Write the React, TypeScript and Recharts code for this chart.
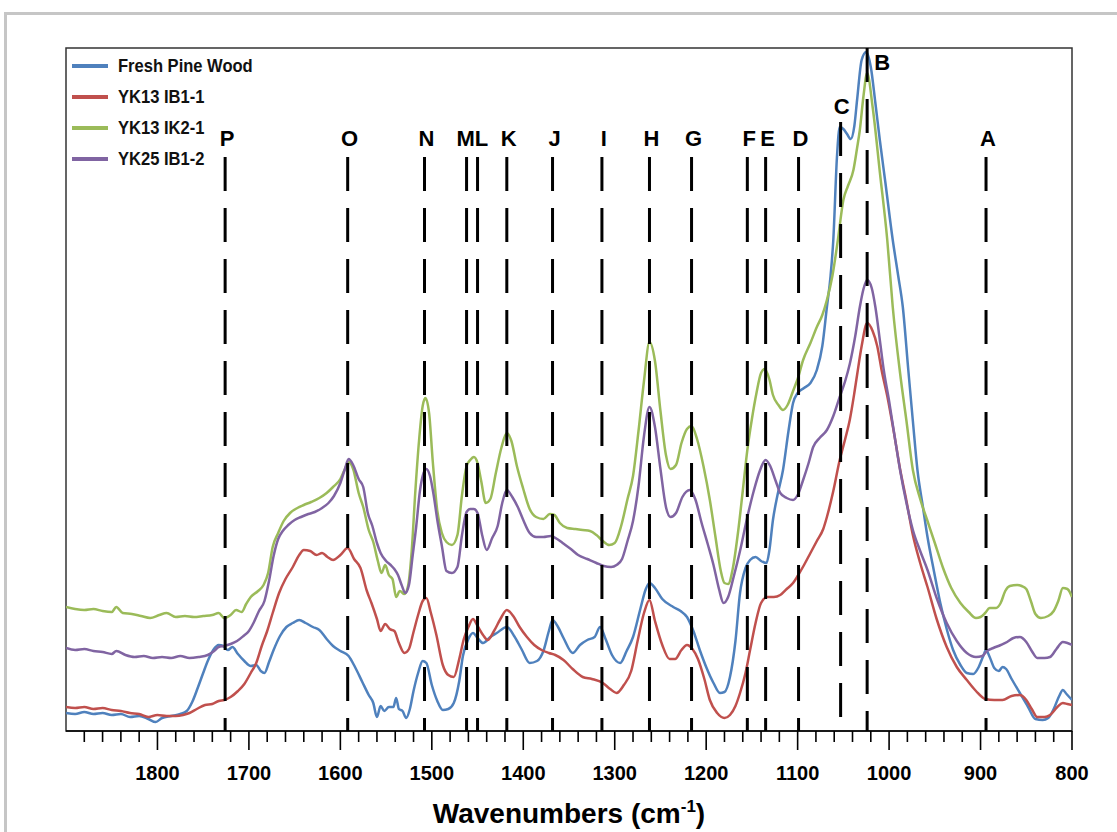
import React from 'react';
import { LineChart, Line, XAxis, YAxis, ReferenceLine, ReferenceArea, Legend } from 'recharts';

type Pt = [number, number];

// [wavenumber (cm-1), absorbance (arbitrary units, offset spectra)]
const freshPineWood: Pt[] = [
  [1900, 18], [1890, 17], [1880, 19], [1870, 17], [1860, 18], [1850, 16], [1840, 17], [1830, 14], [1820, 15], [1810, 12],
  [1802, 9], [1795, 13], [1785, 15], [1775, 17], [1768, 20], [1762, 29], [1756, 43], [1750, 58], [1745, 70], [1739, 81],
  [1733, 86], [1728, 85], [1723, 81], [1718, 84], [1712, 77], [1705, 70], [1698, 65], [1692, 66], [1687, 60], [1683, 58],
  [1678, 69], [1673, 81], [1666, 95], [1659, 104], [1652, 108], [1645, 111], [1638, 108], [1630, 104], [1623, 101], [1615, 92],
  [1608, 85], [1600, 80], [1591, 75], [1584, 64], [1576, 49], [1569, 36], [1564, 28], [1560, 14], [1556, 25], [1552, 20],
  [1547, 24], [1542, 24], [1539, 33], [1536, 22], [1532, 20], [1528, 13], [1524, 22], [1520, 40], [1515, 58], [1510, 70],
  [1506, 68], [1500, 46], [1494, 30], [1488, 21], [1482, 22], [1476, 28], [1470, 50], [1466, 75], [1460, 92], [1455, 98],
  [1450, 93], [1444, 88], [1436, 94], [1429, 98], [1418, 104], [1410, 95], [1402, 82], [1393, 68], [1385, 70], [1378, 80],
  [1372, 100], [1368, 111], [1362, 104], [1356, 93], [1346, 78], [1338, 86], [1330, 91], [1322, 94], [1316, 104], [1310, 92],
  [1303, 76], [1294, 68], [1287, 80], [1280, 94], [1272, 122], [1266, 142], [1262, 148], [1256, 143], [1248, 132], [1236, 124],
  [1228, 120], [1221, 114], [1214, 100], [1207, 81], [1200, 64], [1192, 48], [1185, 38], [1180, 39], [1174, 54], [1168, 90],
  [1163, 138], [1157, 163], [1152, 171], [1146, 174], [1140, 170], [1134, 168], [1131, 180], [1127, 211], [1122, 236], [1116, 261],
  [1110, 300], [1105, 328], [1100, 338], [1093, 343], [1086, 348], [1079, 361], [1073, 385], [1068, 424], [1064, 455], [1061, 491],
  [1057, 574], [1054, 604], [1050, 602], [1046, 597], [1042, 592], [1038, 605], [1035, 631], [1030, 671], [1025, 679], [1020, 664],
  [1015, 628], [1010, 590], [1004, 548], [996, 491], [990, 455], [985, 424], [979, 361], [974, 310], [969, 261], [963, 224],
  [958, 194], [951, 160], [944, 128], [937, 102], [930, 81], [922, 66], [915, 58], [908, 57], [902, 64], [897, 75],
  [894, 81], [890, 74], [885, 63], [880, 60], [876, 64], [872, 62], [866, 52], [857, 38], [848, 24], [840, 12],
  [832, 11], [826, 13], [820, 22], [814, 35], [810, 41], [806, 37], [800, 31],
];

const yk13IB11: Pt[] = [
  [1900, 24], [1890, 23], [1880, 24], [1870, 22], [1860, 23], [1850, 21], [1840, 20], [1830, 18], [1820, 17], [1810, 14],
  [1800, 16], [1790, 15], [1780, 15], [1772, 16], [1765, 18], [1757, 22], [1748, 26], [1740, 27], [1733, 30], [1727, 31],
  [1720, 34], [1712, 40], [1705, 47], [1698, 58], [1692, 68], [1686, 85], [1680, 100], [1674, 118], [1667, 138], [1660, 152],
  [1652, 164], [1645, 176], [1640, 181], [1633, 180], [1626, 176], [1620, 178], [1614, 174], [1608, 171], [1600, 176], [1592, 183],
  [1585, 172], [1578, 163], [1571, 140], [1566, 128], [1560, 112], [1556, 100], [1551, 107], [1546, 102], [1541, 100], [1536, 88],
  [1530, 78], [1525, 82], [1520, 99], [1515, 116], [1510, 130], [1506, 133], [1501, 118], [1495, 96], [1488, 66], [1482, 56],
  [1476, 54], [1470, 72], [1465, 92], [1460, 104], [1455, 112], [1450, 105], [1444, 96], [1439, 91], [1432, 100], [1425, 112],
  [1418, 121], [1411, 115], [1404, 104], [1396, 94], [1388, 86], [1380, 81], [1372, 78], [1365, 76], [1356, 71], [1346, 62],
  [1335, 54], [1325, 52], [1313, 48], [1305, 42], [1298, 38], [1290, 46], [1282, 60], [1275, 90], [1268, 118], [1262, 131],
  [1256, 110], [1248, 86], [1240, 72], [1234, 72], [1227, 81], [1221, 86], [1215, 82], [1209, 72], [1202, 52], [1196, 31],
  [1188, 18], [1180, 13], [1174, 16], [1168, 25], [1163, 38], [1157, 58], [1152, 81], [1146, 108], [1140, 128], [1133, 134],
  [1126, 134], [1119, 136], [1112, 142], [1105, 148], [1100, 155], [1093, 166], [1086, 178], [1079, 190], [1072, 202], [1068, 214],
  [1061, 240], [1054, 271], [1048, 292], [1043, 311], [1038, 338], [1035, 356], [1030, 385], [1024, 408], [1018, 400], [1013, 385],
  [1008, 360], [1002, 335], [995, 300], [988, 262], [981, 230], [974, 196], [966, 168], [958, 144], [948, 112], [937, 84],
  [926, 64], [915, 51], [905, 40], [895, 32], [885, 31], [876, 31], [866, 35], [857, 36], [850, 31], [844, 22],
  [838, 14], [830, 14], [824, 16], [816, 24], [810, 28], [805, 27], [800, 26],
];

const yk13IK21: Pt[] = [
  [1900, 124], [1890, 122], [1880, 121], [1870, 122], [1860, 120], [1850, 119], [1845, 124], [1838, 118], [1828, 117], [1818, 115],
  [1808, 113], [1798, 116], [1790, 118], [1780, 114], [1770, 115], [1760, 114], [1750, 115], [1740, 116], [1733, 118], [1727, 113],
  [1720, 116], [1714, 121], [1708, 119], [1703, 127], [1698, 134], [1690, 140], [1684, 146], [1679, 158], [1674, 184], [1668, 198],
  [1662, 210], [1655, 218], [1647, 223], [1640, 226], [1632, 229], [1623, 233], [1615, 238], [1608, 244], [1600, 252], [1595, 262],
  [1591, 269], [1586, 262], [1580, 238], [1575, 224], [1569, 201], [1564, 189], [1559, 170], [1555, 158], [1551, 166], [1547, 156],
  [1543, 152], [1539, 134], [1535, 140], [1530, 137], [1526, 145], [1522, 180], [1518, 240], [1514, 290], [1510, 325], [1507, 333],
  [1503, 318], [1499, 270], [1494, 220], [1489, 198], [1484, 189], [1478, 186], [1472, 196], [1467, 236], [1462, 265], [1458, 271],
  [1454, 274], [1450, 268], [1446, 250], [1441, 228], [1436, 232], [1430, 258], [1424, 283], [1418, 298], [1413, 290], [1407, 265],
  [1400, 242], [1393, 222], [1386, 214], [1378, 212], [1371, 217], [1366, 216], [1360, 208], [1352, 203], [1343, 202], [1335, 201],
  [1327, 200], [1320, 196], [1313, 190], [1306, 186], [1300, 188], [1293, 205], [1286, 232], [1280, 255], [1274, 300], [1268, 350],
  [1262, 389], [1256, 370], [1250, 320], [1244, 276], [1239, 262], [1233, 266], [1227, 288], [1221, 302], [1216, 305], [1210, 292],
  [1203, 265], [1196, 231], [1190, 195], [1184, 160], [1180, 148], [1176, 147], [1171, 162], [1165, 200], [1160, 240], [1155, 281],
  [1150, 312], [1145, 338], [1140, 358], [1136, 362], [1131, 352], [1127, 336], [1121, 326], [1116, 321], [1111, 326], [1105, 340],
  [1100, 352], [1094, 371], [1086, 388], [1079, 404], [1073, 416], [1068, 431], [1062, 455], [1056, 491], [1050, 531], [1045, 545],
  [1039, 561], [1035, 583], [1032, 601], [1028, 635], [1024, 658], [1018, 624], [1010, 558], [1002, 491], [996, 424], [988, 358],
  [981, 310], [974, 261], [966, 232], [958, 210], [950, 188], [941, 163], [932, 143], [922, 128], [913, 119], [905, 113],
  [900, 114], [895, 118], [890, 123], [883, 123], [878, 128], [873, 140], [868, 145], [860, 146], [855, 145], [850, 142],
  [845, 130], [840, 117], [834, 113], [826, 115], [820, 120], [815, 130], [810, 143], [805, 142], [800, 134],
];

const yk25IB12: Pt[] = [
  [1900, 83], [1890, 81], [1880, 82], [1870, 80], [1860, 79], [1850, 77], [1845, 80], [1835, 76], [1825, 74], [1815, 75],
  [1805, 73], [1795, 74], [1785, 73], [1775, 75], [1765, 73], [1755, 74], [1745, 76], [1738, 80], [1733, 84], [1727, 85],
  [1720, 87], [1713, 90], [1706, 95], [1700, 100], [1695, 108], [1689, 120], [1683, 130], [1678, 150], [1673, 175], [1668, 192],
  [1663, 200], [1657, 206], [1650, 211], [1643, 214], [1635, 217], [1628, 219], [1620, 223], [1613, 228], [1607, 235], [1600, 248],
  [1595, 262], [1591, 272], [1586, 266], [1580, 252], [1575, 244], [1570, 218], [1565, 205], [1560, 188], [1556, 178], [1550, 170],
  [1545, 166], [1541, 162], [1537, 156], [1533, 146], [1529, 138], [1525, 146], [1521, 175], [1517, 205], [1513, 240], [1509, 258],
  [1506, 262], [1502, 255], [1498, 236], [1494, 211], [1489, 185], [1484, 160], [1478, 158], [1472, 164], [1467, 196], [1462, 219],
  [1458, 222], [1454, 222], [1450, 218], [1445, 196], [1440, 181], [1434, 193], [1428, 205], [1423, 228], [1418, 241], [1412, 234],
  [1406, 224], [1400, 211], [1393, 198], [1386, 194], [1378, 194], [1370, 195], [1363, 192], [1357, 188], [1348, 182], [1340, 176],
  [1330, 172], [1320, 168], [1312, 165], [1304, 164], [1298, 166], [1292, 172], [1286, 190], [1280, 210], [1274, 245], [1268, 295],
  [1262, 324], [1256, 304], [1250, 262], [1244, 224], [1239, 214], [1233, 218], [1226, 234], [1218, 241], [1212, 232], [1205, 208],
  [1198, 186], [1192, 166], [1186, 142], [1181, 128], [1176, 134], [1170, 154], [1163, 180], [1155, 214], [1148, 240], [1141, 261],
  [1135, 271], [1130, 265], [1124, 250], [1119, 238], [1112, 233], [1105, 231], [1100, 236], [1094, 251], [1088, 268], [1083, 284],
  [1076, 293], [1068, 301], [1061, 315], [1054, 334], [1048, 350], [1043, 367], [1037, 395], [1032, 424], [1028, 442], [1024, 451],
  [1019, 443], [1015, 424], [1010, 390], [1006, 362], [1000, 330], [994, 295], [988, 261], [981, 228], [974, 201], [966, 180],
  [958, 161], [948, 133], [937, 108], [926, 90], [915, 78], [905, 74], [898, 75], [893, 80], [886, 83], [878, 86],
  [871, 89], [864, 93], [857, 94], [850, 89], [844, 80], [838, 73], [830, 73], [824, 74], [817, 82], [810, 89],
  [805, 88], [800, 86],
];

const seriesNames = ['Fresh Pine Wood', 'YK13 IB1-1', 'YK13 IK2-1', 'YK25 IB1-2'];
const seriesColors = ['#4F81BD', '#C0504D', '#9BBB59', '#8064A2'];
const seriesPoints = [freshPineWood, yk13IB11, yk13IK21, yk25IB12];

const bandLetters = ['P', 'O', 'N', 'M', 'L', 'K', 'J', 'I', 'H', 'G', 'F', 'E', 'D', 'C', 'B', 'A'];
const bandWavenumbers = [1726, 1592, 1508, 1462, 1450, 1418, 1368, 1314, 1262, 1216, 1155, 1135, 1099, 1053, 1024, 894];

const majorTicks = [1800, 1700, 1600, 1500, 1400, 1300, 1200, 1100, 1000, 900, 800];
const minorTicks = [
  1880, 1860, 1840, 1820, 1780, 1760, 1740, 1720, 1680, 1660, 1640, 1620, 1580, 1560, 1540, 1520,
  1480, 1460, 1440, 1420, 1380, 1360, 1340, 1320, 1280, 1260, 1240, 1220, 1180, 1160, 1140, 1120,
  1080, 1060, 1040, 1020, 980, 960, 940, 920, 880, 860, 840, 820,
];

const Y_MAX = 683;
const SANS = '"Liberation Sans", Arial, Helvetica, sans-serif';

const series = seriesNames.map((name, i) => ({
  name,
  color: seriesColors[i],
  data: seriesPoints[i].map(([wn, v]) => ({ wn, v })),
}));

const bandTop = (letter: string) => (letter === 'B' ? Y_MAX : letter === 'C' ? 609 : 574);

const bandLabel = (letter: string) => (props: any) => {
  const vb = props.viewBox || {};
  const x = vb.x ?? vb.x1;
  const y = vb.y ?? Math.min(vb.y1, vb.y2);
  let dx = 2;
  let dy = -11;
  if (letter === 'B') { dx = 15; dy = 22; }
  if (letter === 'C') { dx = 1; dy = -8; }
  if (letter === 'L') dx = 4;
  if (letter === 'M') dx = -1;
  return (
    <text x={x + dx} y={y + dy} textAnchor="middle" style={{ fontFamily: SANS, fontWeight: 700, fontSize: 22, fill: '#000' }}>
      {letter}
    </text>
  );
};

const renderTick = (props: any) => {
  const { x, y, payload } = props;
  const major = majorTicks.includes(payload.value);
  return (
    <g>
      <line x1={x} x2={x} y1={y} y2={y + (major ? 19 : 11)} stroke="#000" strokeWidth={1.6} />
      {major && (
        <text x={x} y={y + 49} textAnchor="middle" style={{ fontFamily: SANS, fontWeight: 700, fontSize: 20, fill: '#000' }}>
          {payload.value}
        </text>
      )}
    </g>
  );
};

const renderXLabel = (props: any) => {
  const vb = props.viewBox || {};
  const cx = vb.x + vb.width / 2;
  const y = vb.y + 92;
  return (
    <text x={cx} y={y} textAnchor="middle" style={{ fontFamily: SANS, fontWeight: 700, fontSize: 28, fill: '#000' }}>
      Wavenumbers (cm
      <tspan fontSize={17} dy={-11}>-1</tspan>
      <tspan dy={11}>)</tspan>
    </text>
  );
};

const renderYLabel = (props: any) => {
  const vb = props.viewBox || {};
  const cx = vb.x - 28;
  const cy = vb.y + vb.height / 2 + 36;
  return (
    <text
      x={cx}
      y={cy}
      transform={`rotate(-90 ${cx} ${cy})`}
      textAnchor="middle"
      dominantBaseline="central"
      style={{ fontFamily: SANS, fontWeight: 700, fontSize: 29, fill: '#000' }}
    >
      Absorbance
    </text>
  );
};

const renderLegend = () => (
  <div style={{ display: 'flex', flexDirection: 'column' }}>
    {series.map((s) => (
      <div key={s.name} style={{ display: 'flex', alignItems: 'center', height: 31 }}>
        <span style={{ display: 'inline-block', width: 36, height: 4, background: s.color, marginRight: 10 }} />
        <span
          style={{
            display: 'inline-block',
            fontFamily: SANS,
            fontWeight: 700,
            fontSize: 19,
            color: '#111',
            whiteSpace: 'nowrap',
            transform: 'scaleX(0.87)',
            transformOrigin: 'left center',
          }}
        >
          {s.name}
        </span>
      </div>
    ))}
  </div>
);

export default function App() {
  return (
    <div style={{ position: 'absolute', left: 0, top: 0, width: 1117, height: 832, overflow: 'hidden', background: '#fff' }}>
      <div
        style={{
          position: 'absolute',
          left: 4,
          top: 12,
          width: 1200,
          height: 900,
          border: '3px solid #c6c6c6',
          boxSizing: 'border-box',
        }}
      />
      <div style={{ position: 'absolute', left: 0, top: 0 }}>
        <LineChart width={1117} height={832} margin={{ top: 48, right: 45, bottom: 41, left: 66 }}>
          <XAxis
            dataKey="wn"
            type="number"
            domain={[800, 1900]}
            reversed
            allowDataOverflow
            ticks={[...minorTicks, ...majorTicks]}
            interval={0}
            height={60}
            tickSize={0}
            tickMargin={0}
            tickLine={false}
            axisLine={{ stroke: '#000', strokeWidth: 1.6 }}
            tick={renderTick}
            label={renderXLabel}
          />
          <YAxis
            type="number"
            domain={[0, Y_MAX]}
            allowDataOverflow
            width={0}
            tick={false}
            tickLine={false}
            axisLine={false}
            label={renderYLabel}
          />
          <ReferenceArea x1={800} x2={1900} y1={0} y2={Y_MAX} fill="none" stroke="#333" strokeWidth={1.5} ifOverflow="visible" />
          {series.map((s) => (
            <Line
              key={s.name}
              data={s.data}
              dataKey="v"
              name={s.name}
              type="monotone"
              stroke={s.color}
              strokeWidth={2.5}
              dot={false}
              activeDot={false}
              isAnimationActive={false}
            />
          ))}
          {bandLetters.map((letter, i) => (
            <ReferenceLine
              key={letter}
              segment={[
                { x: bandWavenumbers[i], y: bandTop(letter) },
                { x: bandWavenumbers[i], y: 0 },
              ]}
              stroke="#000"
              strokeWidth={3}
              strokeDasharray="34 17"
              ifOverflow="visible"
              label={bandLabel(letter)}
            />
          ))}
          <Legend
            layout="vertical"
            align="center"
            verticalAlign="middle"
            wrapperStyle={{ left: 72, top: 50, width: 240, height: 130 }}
            content={renderLegend}
          />
        </LineChart>
      </div>
    </div>
  );
}
